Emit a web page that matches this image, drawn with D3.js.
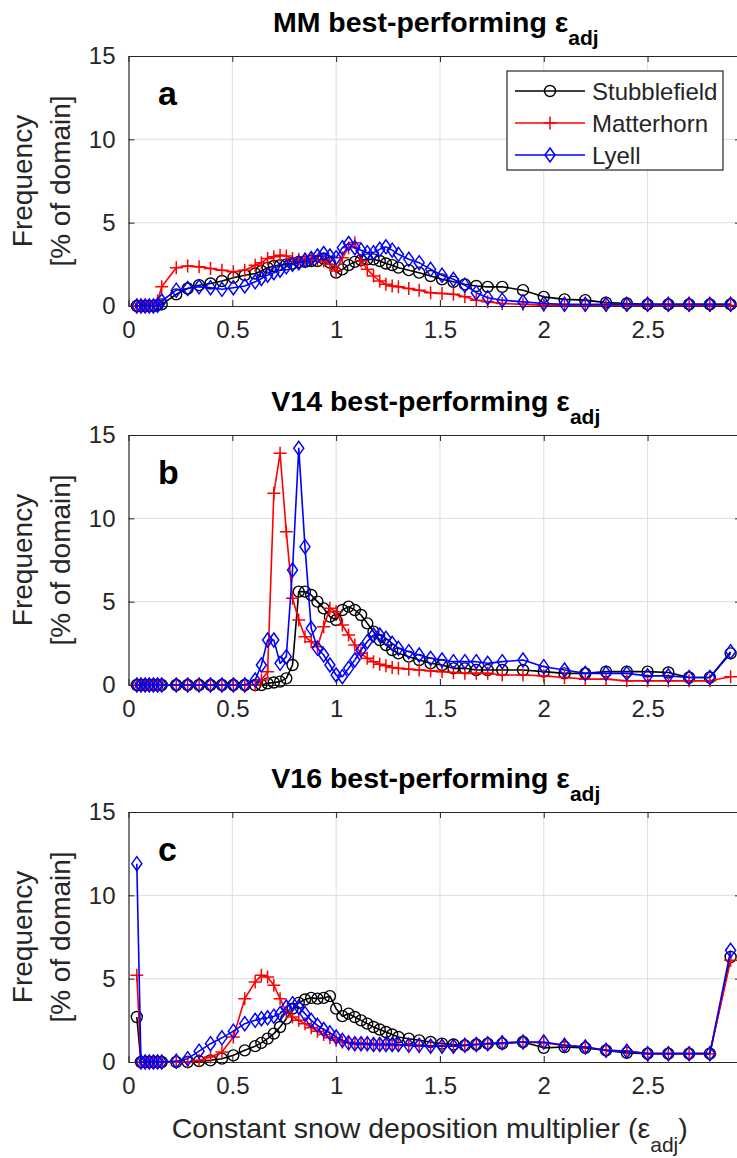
<!DOCTYPE html>
<html>
<head>
<meta charset="utf-8">
<script src="https://cdn.jsdelivr.net/npm/d3@7"></script>
<style>
  html, body { margin: 0; padding: 0; background: #fff; }
  svg text { font-family: "Liberation Sans", Arial, Helvetica, sans-serif; }
</style>
</head>
<body>
<svg id="fig" width="737" height="1158"></svg>
<script>
// Snow deposition multiplier values (x) shared by every curve
const multipliers = [
  0.04, 0.06, 0.08, 0.10, 0.12, 0.14, 0.16,
  0.23, 0.285, 0.34, 0.395, 0.45, 0.505, 0.56,
  0.61, 0.64, 0.67, 0.70, 0.73, 0.76, 0.79, 0.82, 0.85, 0.88, 0.91, 0.94,
  0.97, 1.00, 1.03, 1.06, 1.09, 1.12, 1.15, 1.18, 1.21, 1.24, 1.27, 1.30,
  1.35, 1.40, 1.455, 1.51, 1.565, 1.62, 1.675, 1.73,
  1.80, 1.90, 2.0, 2.1, 2.2, 2.3, 2.4, 2.5, 2.6, 2.7, 2.8, 2.9
];

// Frequency (% of domain) — MM
const mmStubblefield = [
  0, 0, 0, 0, 0, 0.05, 0.1,
  0.7, 1.05, 1.25, 1.35, 1.5, 1.7, 1.85,
  1.95, 2.1, 2.3, 2.4, 2.45, 2.5, 2.55, 2.65, 2.65, 2.7, 2.7, 2.85,
  2.6, 2.0, 2.2, 2.45, 2.65, 2.75, 2.8, 2.8, 2.7, 2.55, 2.45, 2.3,
  2.15, 2.0, 1.8, 1.6, 1.45, 1.3, 1.2, 1.15,
  1.15, 0.95, 0.55, 0.4, 0.35, 0.2, 0.15, 0.1, 0.1, 0.1, 0.1, 0.1
];
const mmMatterhorn = [
  0, 0, 0, 0, 0, 0.3, 1.15,
  2.3, 2.4, 2.35, 2.25, 2.15, 2.05, 2.15,
  2.45, 2.6, 2.85, 2.95, 3.05, 3.0, 2.85, 2.8, 2.8, 2.85, 2.75, 2.7,
  2.5, 2.1, 2.9, 3.5, 3.8, 2.7, 2.2, 1.8, 1.5, 1.3, 1.2, 1.15,
  1.05, 0.95, 0.8, 0.75, 0.7, 0.55, 0.35, 0.25,
  0.15, 0.1, 0.05, 0.05, 0.05, 0.05, 0.05, 0.05, 0.05, 0.05, 0.05, 0.05
];
const mmLyell = [
  0, 0, 0, 0, 0, 0.05, 0.3,
  0.95, 1.05, 1.15, 1.1, 1.0, 1.1, 1.2,
  1.45, 1.65, 1.85, 2.0, 2.15, 2.35, 2.5, 2.6, 2.75, 2.85, 3.0, 3.15,
  3.0, 2.9, 3.5, 3.75, 3.5, 3.35, 3.2, 3.2, 3.4, 3.55, 3.35, 3.1,
  2.8, 2.6, 2.2, 1.85, 1.6, 1.25, 0.8, 0.5,
  0.35, 0.25, 0.15, 0.1, 0.1, 0.1, 0.1, 0.1, 0.1, 0.1, 0.1, 0.1
];

// Frequency (% of domain) — V14
const v14Stubblefield = [
  0, 0, 0, 0, 0, 0, 0,
  0, 0, 0, 0, 0, 0, 0,
  0, 0, 0.1, 0.15, 0.2, 0.4, 1.2, 5.6, 5.6, 5.4, 5.0, 4.6,
  4.1, 3.9, 4.5, 4.7, 4.5, 4.2, 3.7, 3.2, 2.7, 2.4, 2.1, 1.9,
  1.7, 1.5, 1.3, 1.2, 1.0, 1.0, 0.9, 0.9,
  0.9, 0.9, 0.8, 0.7, 0.7, 0.8, 0.8, 0.8, 0.75, 0.45, 0.45, 1.9
];
const v14Matterhorn = [
  0, 0, 0, 0, 0, 0, 0,
  0, 0, 0, 0, 0, 0, 0,
  0, 0.3, 0.8, 11.5, 13.9, 9.2, 5.2, 3.9, 2.9, 2.6, 2.3, 3.5,
  4.6, 4.4, 3.6, 3.0, 2.4, 1.9, 1.6, 1.4, 1.25, 1.15, 1.05, 1.0,
  0.95, 0.9, 0.85, 0.8, 0.75, 0.7, 0.7, 0.7,
  0.6, 0.6, 0.55, 0.45, 0.35, 0.35, 0.25, 0.25, 0.25, 0.25, 0.25, 0.5
];
const v14Lyell = [
  0, 0, 0, 0, 0, 0, 0,
  0, 0, 0, 0, 0, 0, 0,
  0.3, 1.2, 2.7, 2.7, 1.3, 1.7, 6.9, 14.2, 8.3, 3.4, 2.2, 1.8,
  1.2, 0.6, 0.5, 1.0, 1.5, 2.1, 2.6, 3.0, 3.0, 2.8, 2.5, 2.2,
  2.0, 1.8, 1.6, 1.5, 1.4, 1.4, 1.4, 1.3,
  1.4, 1.5, 1.1, 0.9, 0.7, 0.7, 0.7, 0.55, 0.55, 0.45, 0.45, 2.0
];

// Frequency (% of domain) — V16
const v16Stubblefield = [
  2.7, 0, 0, 0, 0, 0, 0,
  0, 0, 0.05, 0.1, 0.2, 0.4, 0.7,
  0.95, 1.15, 1.4, 1.7, 2.1, 2.6, 3.2, 3.55, 3.75, 3.85, 3.8, 3.85,
  3.95, 3.2, 2.75, 2.9, 2.7, 2.5, 2.3, 2.1, 1.95, 1.8, 1.65, 1.5,
  1.4, 1.3, 1.2, 1.1, 1.05, 1.0, 1.05, 1.1,
  1.1, 1.2, 0.85, 0.9, 0.85, 0.7, 0.55, 0.5, 0.5, 0.5, 0.5, 6.3
];
const v16Matterhorn = [
  5.2, 0, 0, 0, 0, 0, 0,
  0, 0, 0.1, 0.3, 0.6, 1.5, 3.8,
  4.8, 5.2, 5.1, 4.6, 3.8, 3.0, 2.7, 2.5, 2.3, 2.05, 1.85, 1.65,
  1.45, 1.3, 1.2, 1.15, 1.1, 1.1, 1.1, 1.05, 1.05, 1.05, 1.0, 1.0,
  1.0, 0.95, 0.95, 0.95, 0.95, 1.0, 1.05, 1.1,
  1.15, 1.2, 1.15, 1.0, 0.9, 0.7, 0.65, 0.5, 0.5, 0.5, 0.5, 6.1
];
const v16Lyell = [
  11.9, 0, 0, 0, 0, 0, 0,
  0.05, 0.2, 0.65, 1.1, 1.45, 1.85, 2.3,
  2.5, 2.6, 2.65, 2.75, 2.9, 3.3, 3.5, 3.3, 2.9, 2.5, 2.2, 1.95,
  1.75, 1.5, 1.3, 1.15, 1.1, 1.1, 1.1, 1.05, 1.05, 1.05, 1.05, 1.05,
  1.0, 1.0, 0.95, 0.95, 0.95, 1.0, 1.05, 1.1,
  1.15, 1.2, 1.2, 1.0, 0.9, 0.7, 0.65, 0.5, 0.5, 0.5, 0.5, 6.7
];

const siteNames = ["Stubblefield", "Matterhorn", "Lyell"];
const panelModels = ["MM", "V14", "V16"];
const panelLetters = ["a", "b", "c"];
const xTicks = [0, 0.5, 1, 1.5, 2, 2.5];
const yTicks = [0, 5, 10, 15];

// Site styles: colour + marker shape
const siteStyle = {
  Stubblefield: { color: "#000000", marker: "circle" },
  Matterhorn:   { color: "#ff0000", marker: "plus" },
  Lyell:        { color: "#0000ff", marker: "diamond" }
};

const panelSeries = [
  [mmStubblefield, mmMatterhorn, mmLyell],
  [v14Stubblefield, v14Matterhorn, v14Lyell],
  [v16Stubblefield, v16Matterhorn, v16Lyell]
];

// Layout
const axLeft = 128.5, axRight = 741;
const panelTops = [56, 435, 812];
const panelH = 250;
const axisInk = "#262626";
const tickLen = 6;

const svg = d3.select("#fig");

const x = d3.scaleLinear().domain([0, 2.95]).range([axLeft, axRight]);

function drawMarker(g, kind, color) {
  if (kind === "circle") {
    g.append("circle").attr("r", 5.5).attr("fill", "none")
      .attr("stroke", color).attr("stroke-width", 1.4);
  } else if (kind === "plus") {
    g.append("path").attr("d", "M-6.5,0H6.5M0,-6.5V6.5").attr("fill", "none")
      .attr("stroke", color).attr("stroke-width", 1.5);
  } else {
    g.append("path").attr("d", "M0,-7L5,0L0,7L-5,0Z").attr("fill", "none")
      .attr("stroke", color).attr("stroke-width", 1.5);
  }
}

panelModels.forEach((model, pi) => {
  const top = panelTops[pi];
  const bottom = top + panelH;
  const y = d3.scaleLinear().domain([0, 15]).range([bottom, top]);
  const g = svg.append("g");

  // grid lines
  g.append("g").selectAll("line").data(xTicks.filter(t => t > 0)).join("line")
    .attr("x1", d => x(d)).attr("x2", d => x(d))
    .attr("y1", top).attr("y2", bottom)
    .attr("stroke", "#dedede").attr("stroke-width", 1);
  g.append("g").selectAll("line").data(yTicks.filter(t => t > 0 && t < 15)).join("line")
    .attr("x1", axLeft).attr("x2", axRight)
    .attr("y1", d => y(d)).attr("y2", d => y(d))
    .attr("stroke", "#dedede").attr("stroke-width", 1);

  // axes (ticks pointing inward on all four sides)
  const axB = d3.axisBottom(x).tickValues(xTicks).tickSizeInner(-tickLen).tickSizeOuter(0)
    .tickPadding(15).tickFormat(d3.format("~g"));
  const axT = d3.axisTop(x).tickValues(xTicks).tickSizeInner(-tickLen).tickSizeOuter(0)
    .tickFormat("");
  const axL = d3.axisLeft(y).tickValues(yTicks).tickSizeInner(-tickLen).tickSizeOuter(0)
    .tickPadding(13).tickFormat(d3.format("~g"));
  const axR = d3.axisRight(y).tickValues(yTicks).tickSizeInner(-tickLen).tickSizeOuter(0)
    .tickFormat("");

  const gB = g.append("g").attr("transform", `translate(0,${bottom})`).call(axB);
  const gT = g.append("g").attr("transform", `translate(0,${top})`).call(axT);
  const gL = g.append("g").attr("transform", `translate(${axLeft},0)`).call(axL);
  const gR = g.append("g").attr("transform", `translate(${axRight},0)`).call(axR);
  [gB, gT, gL, gR].forEach(a => {
    a.select(".domain").attr("stroke", axisInk).attr("stroke-width", 1.2);
    a.selectAll(".tick line").attr("stroke", axisInk).attr("stroke-width", 1);
    a.selectAll(".tick text").attr("fill", axisInk)
      .style("font-size", "24px").style("font-family", "'Liberation Sans', Arial, sans-serif");
  });

  // title
  const title = g.append("text")
    .attr("x", (axLeft + 735) / 2 + 4).attr("y", top - 24)
    .attr("text-anchor", "middle").attr("fill", "#000")
    .style("font-weight", "bold").style("font-size", "28.5px");
  title.append("tspan").text(`${model} best-performing ε`);
  title.append("tspan").attr("dy", 13).style("font-size", "21px").text("adj");

  // panel letter
  g.append("text").attr("x", 158).attr("y", top + 49)
    .style("font-weight", "bold").style("font-size", "34px").attr("fill", "#000")
    .text(panelLetters[pi]);

  // y label (two lines)
  const yMid = (top + bottom) / 2;
  g.append("text").attr("transform", `translate(32,${yMid}) rotate(-90)`)
    .attr("text-anchor", "middle").attr("fill", axisInk).style("font-size", "28px")
    .text("Frequency");
  g.append("text").attr("transform", `translate(70,${yMid}) rotate(-90)`)
    .attr("text-anchor", "middle").attr("fill", axisInk).style("font-size", "28px")
    .text("[% of domain]");

  // series: lines then markers, drawn in legend order
  const line = d3.line().x(d => x(d[0])).y(d => y(d[1]));
  panelSeries[pi].forEach((vals, si) => {
    const st = siteStyle[siteNames[si]];
    const pts = multipliers.map((m, i) => [m, vals[i]]);
    g.append("path").datum(pts).attr("d", line).attr("fill", "none")
      .attr("stroke", st.color).attr("stroke-width", 1.6).attr("stroke-linejoin", "round");
    const mg = g.append("g");
    pts.forEach(p => {
      const mk = mg.append("g").attr("transform", `translate(${x(p[0])},${y(p[1])})`);
      drawMarker(mk, st.marker, st.color);
    });
  });

  // legend on first panel only
  if (pi === 0) {
    const lg = g.append("g");
    lg.append("rect").attr("x", 507).attr("y", 71).attr("width", 216).attr("height", 99)
      .attr("fill", "#fff").attr("stroke", axisInk).attr("stroke-width", 1.2);
    siteNames.forEach((name, i) => {
      const st = siteStyle[name];
      const cy = 91 + i * 32;
      lg.append("line").attr("x1", 515).attr("x2", 585).attr("y1", cy).attr("y2", cy)
        .attr("stroke", st.color).attr("stroke-width", 1.5);
      const mk = lg.append("g").attr("transform", `translate(550,${cy})`);
      drawMarker(mk, st.marker, st.color);
      lg.append("text").attr("x", 592).attr("y", cy + 8.5).attr("fill", axisInk)
        .style("font-size", "24px").text(name);
    });
  }

  // x label under the last panel
  if (pi === panelModels.length - 1) {
    const xl = g.append("text").attr("x", (axLeft + 735) / 2 - 2).attr("y", bottom + 76)
      .attr("text-anchor", "middle").attr("fill", axisInk).style("font-size", "28.5px");
    xl.append("tspan").text("Constant snow deposition multiplier (ε");
    xl.append("tspan").attr("dy", 14).style("font-size", "21px").text("adj");
    xl.append("tspan").attr("dy", -14).text(")");
  }
});
</script>
</body>
</html>
